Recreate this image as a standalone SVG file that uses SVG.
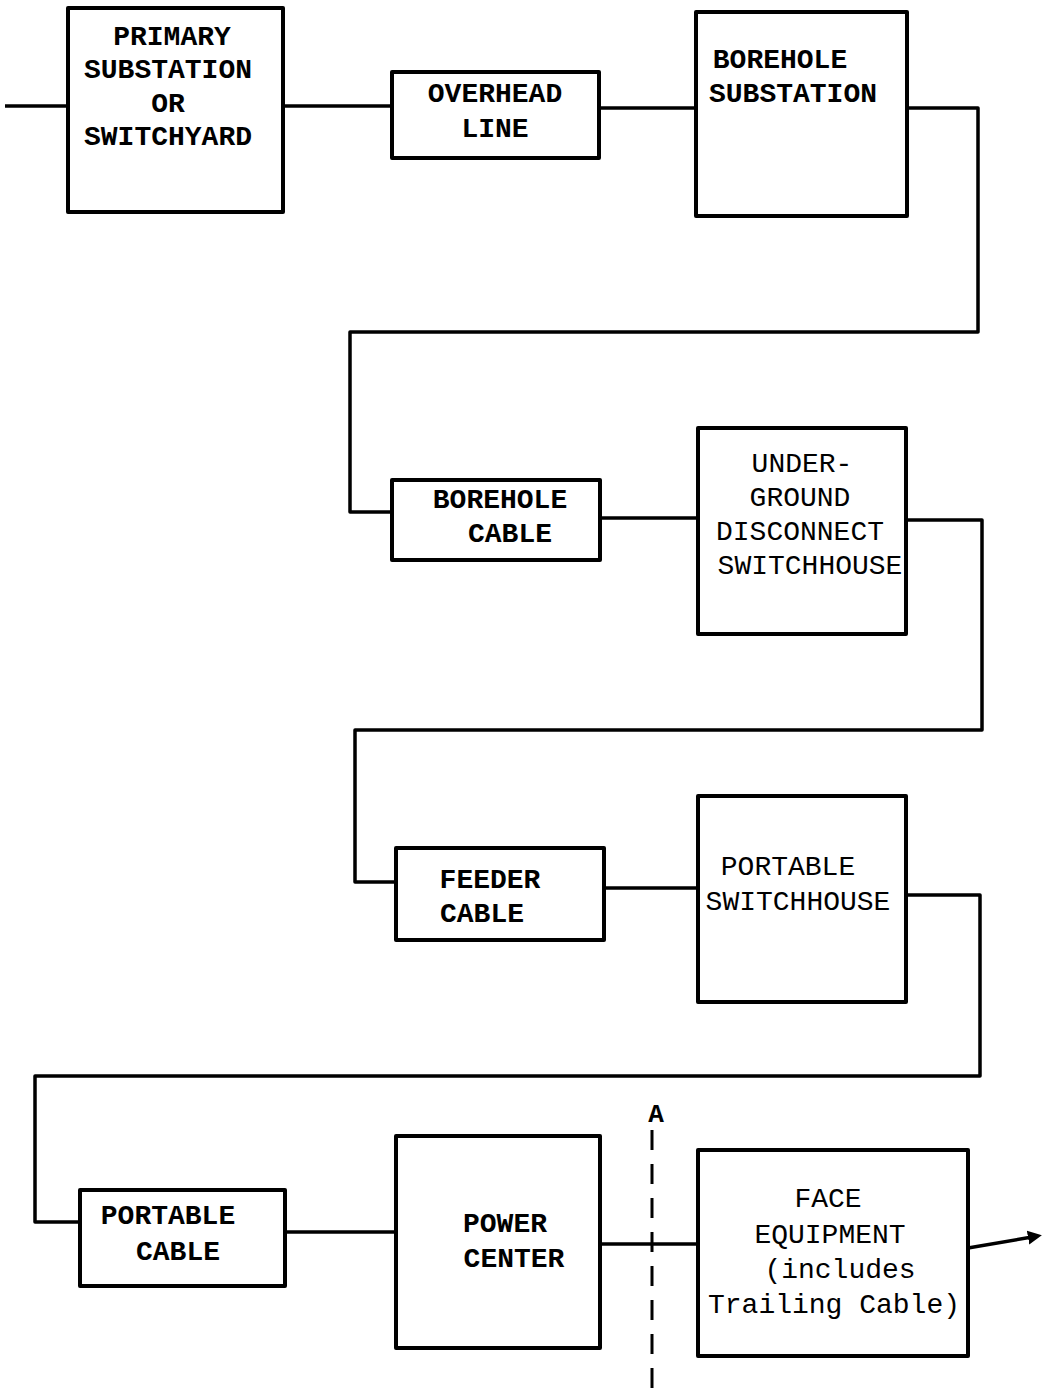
<svg xmlns="http://www.w3.org/2000/svg" width="1051" height="1398" viewBox="0 0 1051 1398">
<style>
.box{fill:#fff;stroke:#000;stroke-width:4;stroke-linejoin:round}
.c{fill:none;stroke:#000;stroke-width:3.5;stroke-linejoin:round}
text{font-family:"Liberation Mono","DejaVu Sans Mono",monospace;font-size:28px;fill:#000;text-anchor:middle}
.b{font-weight:bold}
</style>
<defs>
<marker id="ah" markerWidth="16" markerHeight="16" refX="4" refY="8" orient="auto" markerUnits="userSpaceOnUse">
<path d="M0,1 L14,8 L0,15 Z" fill="#000"/>
</marker>
</defs>
<g id="connectors">
<path class="c" d="M5,106 H68"/>
<path class="c" d="M283,106 H392"/>
<path class="c" d="M599,108 H696"/>
<path class="c" d="M907,108 H978 V332 H350 V512 H392"/>
<path class="c" d="M600,518 H698"/>
<path class="c" d="M906,520 H982 V730 H355 V882 H396"/>
<path class="c" d="M604,888 H698"/>
<path class="c" d="M906,895 H980 V1076 H35 V1222 H80"/>
<path class="c" d="M285,1232 H396"/>
<path class="c" d="M600,1244 H698"/>
<path class="c" d="M968,1248 L1032,1237" marker-end="url(#ah)"/>
<path d="M652,1130 V1395" fill="none" stroke="#000" stroke-width="3" stroke-dasharray="20,14"/>
<text x="656" y="1122" class="b" style="font-size:26px">A</text>
</g>
<g id="primary">
<rect class="box" x="68" y="8" width="215" height="204"/>
<text class="b" x="172" y="45">PRIMARY</text>
<text class="b" x="168" y="78">SUBSTATION</text>
<text class="b" x="168" y="112">OR</text>
<text class="b" x="168" y="145">SWITCHYARD</text>
</g>
<g id="overhead">
<rect class="box" x="392" y="72" width="207" height="86"/>
<text class="b" x="495" y="102">OVERHEAD</text>
<text class="b" x="495" y="137">LINE</text>
</g>
<g id="borehole-sub">
<rect class="box" x="696" y="12" width="211" height="204"/>
<text class="b" x="780" y="68">BOREHOLE</text>
<text class="b" x="793" y="102">SUBSTATION</text>
</g>
<g id="borehole-cable">
<rect class="box" x="392" y="480" width="208" height="80"/>
<text class="b" x="500" y="508">BOREHOLE</text>
<text class="b" x="510" y="542">CABLE</text>
</g>
<g id="ug-switchhouse">
<rect class="box" x="698" y="428" width="208" height="206"/>
<text x="802" y="472">UNDER-</text>
<text x="800" y="506">GROUND</text>
<text x="800" y="540">DISCONNECT</text>
<text x="810" y="574">SWITCHHOUSE</text>
</g>
<g id="feeder-cable">
<rect class="box" x="396" y="848" width="208" height="92"/>
<text class="b" x="490" y="888">FEEDER</text>
<text class="b" x="482" y="922">CABLE</text>
</g>
<g id="portable-switchhouse">
<rect class="box" x="698" y="796" width="208" height="206"/>
<text x="788" y="875">PORTABLE</text>
<text x="798" y="910">SWITCHHOUSE</text>
</g>
<g id="portable-cable">
<rect class="box" x="80" y="1190" width="205" height="96"/>
<text class="b" x="168" y="1224">PORTABLE</text>
<text class="b" x="178" y="1260">CABLE</text>
</g>
<g id="power-center">
<rect class="box" x="396" y="1136" width="204" height="212"/>
<text class="b" x="505" y="1232">POWER</text>
<text class="b" x="514" y="1267">CENTER</text>
</g>
<g id="face-equipment">
<rect class="box" x="698" y="1150" width="270" height="206"/>
<text x="828" y="1207">FACE</text>
<text x="830" y="1243">EQUIPMENT</text>
<text x="840" y="1278">(includes</text>
<text x="834" y="1313">Trailing Cable)</text>
</g>
</svg>
